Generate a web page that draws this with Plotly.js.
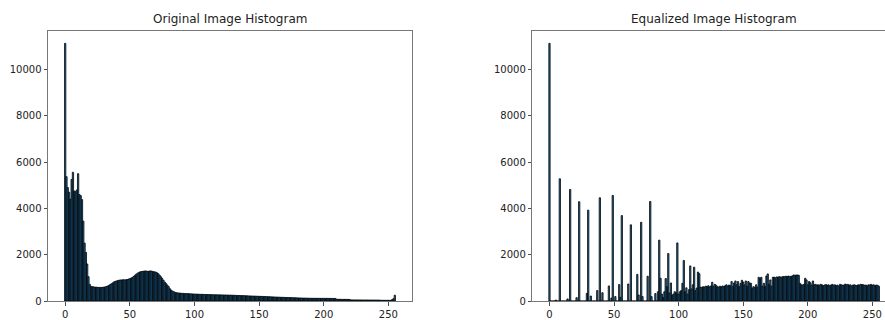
<!DOCTYPE html>
<html><head><meta charset="utf-8">
<script src="https://cdn.plot.ly/plotly-3.0.1.min.js"></script>
<style>html,body{margin:0;padding:0;overflow:hidden;background:#fff}#chart{width:900px;height:320px}</style>
</head><body><div id="chart"></div>
<script>
// Pixel intensity levels 0..255 (histogram categories)
const intensityLevels = Array.from({length: 256}, (_, i) => i);

// Original image histogram counts, bins 0..255
const originalCounts = [
  11130, 5370, 4900, 4700, 4400, 5250, 5560, 4750, 4720, 4800,
  5500, 4600, 4550, 4380, 3450, 2500, 2100, 1600, 1050, 720,
  630, 620, 610, 600, 600, 590, 580, 590, 580, 590,
  600, 610, 630, 650, 680, 720, 750, 790, 830, 850,
  870, 890, 900, 910, 910, 920, 910, 920, 930, 950,
  960, 990, 1020, 1060, 1110, 1160, 1200, 1230, 1260, 1270,
  1280, 1290, 1300, 1290, 1280, 1290, 1300, 1290, 1270, 1260,
  1250, 1220, 1180, 1120, 1050, 980, 900, 820, 760, 690,
  620, 530, 470, 430, 400, 375, 360, 350, 345, 340,
  330, 330, 325, 320, 315, 320, 315, 305, 310, 300,
  300, 295, 300, 290, 290, 285, 290, 280, 285, 280,
  280, 275, 278, 270, 272, 268, 270, 265, 268, 262,
  265, 260, 262, 258, 260, 255, 258, 250, 255, 248,
  250, 245, 242, 240, 238, 235, 236, 230, 232, 226,
  228, 222, 220, 218, 216, 214, 212, 210, 206, 205,
  202, 200, 196, 198, 192, 190, 188, 186, 183, 180,
  178, 176, 172, 170, 168, 165, 163, 160, 158, 156,
  155, 152, 150, 148, 146, 144, 142, 140, 138, 136,
  134, 132, 130, 128, 127, 125, 124, 122, 120, 119,
  118, 117, 116, 116, 115, 115, 114, 115, 114, 113,
  114, 113, 114, 112, 113, 112, 111, 112, 110, 111,
  75, 74, 72, 73, 71, 70, 70, 69, 70, 68,
  66, 48, 47, 46, 45, 46, 44, 45, 44, 45,
  43, 44, 42, 43, 44, 42, 41, 42, 40, 41,
  40, 39, 40, 38, 32, 31, 30, 30, 29, 30,
  29, 28, 30, 60, 100, 250
];

// Equalized image histogram counts, bins 0..255
const equalizedCounts = [
  11130, 0, 0, 0, 0, 40, 0, 0, 5280, 0,
  0, 0, 0, 0, 90, 0, 4820, 0, 0, 0,
  0, 145, 0, 4290, 0, 0, 0, 0, 0, 330,
  3925, 0, 215, 0, 0, 0, 0, 450, 0, 4460,
  0, 360, 0, 0, 0, 0, 650, 0, 130, 4560,
  0, 190, 0, 0, 710, 160, 3690, 0, 0, 0,
  0, 735, 0, 3290, 0, 0, 0, 0, 1150, 260,
  0, 3400, 190, 0, 0, 0, 1070, 0, 4300, 190,
  0, 0, 320, 0, 400, 2630, 980, 300, 150, 400,
  970, 620, 2050, 350, 780, 250, 300, 400, 350, 2510,
  300, 400, 450, 765, 1750, 400, 570, 300, 490, 1515,
  520, 700, 1460, 450, 560, 1250, 1180, 600, 580, 620,
  600, 640, 620, 660, 610, 650, 810, 640, 720, 680,
  620, 600, 640, 610, 650, 620, 660, 700, 640, 690,
  660, 840, 620, 780, 865, 700, 840, 620, 760, 895,
  820, 700, 865, 640, 840, 780, 765, 560, 620, 577,
  700, 600, 1025, 980, 1025, 640, 765, 620, 1080, 1170,
  720, 910, 640, 1025, 1030, 1000, 1040, 1030, 1050, 1030,
  1040, 1060, 1050, 1070, 1060, 1080, 1050, 1070, 1080, 1125,
  1110, 1120, 1125, 1110, 765, 700, 690, 720, 980, 910,
  700, 840, 790, 690, 865, 700, 720, 690, 700, 680,
  720, 700, 660, 690, 710, 680, 700, 660, 690, 720,
  680, 700, 660, 690, 640, 720, 700, 680, 690, 730,
  700, 720, 680, 700, 650, 690, 700, 680, 660, 700,
  690, 720, 710, 700, 680, 690, 650, 700, 690, 720,
  680, 700, 660, 690, 680, 640
];

const xTicks = [0, 50, 100, 150, 200, 250];
const yTicks = [0, 2000, 4000, 6000, 8000, 10000];
const yTickText = ['0', '2000', '4000', '6000', '8000', '10000'];
const titles = ['Original Image Histogram', 'Equalized Image Histogram'];

const W = 900, H = 320;
const barStyle = {color: '#1f77b4', line: {color: '#000000', width: 0.8}};

const traces = [
  {type: 'bar', x: intensityLevels, y: originalCounts, width: 1, marker: barStyle, xaxis: 'x', yaxis: 'y', hoverinfo: 'x+y'},
  {type: 'bar', x: intensityLevels, y: equalizedCounts, width: 1, marker: barStyle, xaxis: 'x2', yaxis: 'y2', hoverinfo: 'x+y'}
];

const tickFont = {family: 'DejaVu Sans, sans-serif', size: 10, color: '#222'};
function xAxis(d0, d1, anchor) {
  return {domain: [d0 / W, d1 / W], anchor: anchor, range: [-13.3, 268.3], tickmode: 'array', tickvals: xTicks,
    ticktext: xTicks.map(String),
    ticks: 'outside', ticklen: 3.5, tickwidth: 0.8, tickcolor: '#222', showline: true, mirror: true,
    linecolor: '#777', linewidth: 1, showgrid: false, zeroline: false, tickfont: tickFont, fixedrange: true};
}
function yAxis(anchor) {
  return {domain: [(H - 301) / H, (H - 30.5) / H], anchor: anchor, range: [0, 11685], tickmode: 'array', tickvals: yTicks,
    ticktext: yTickText,
    ticks: 'outside', ticklen: 3.5, tickwidth: 0.8, tickcolor: '#222', showline: true, mirror: true,
    linecolor: '#777', linewidth: 1, showgrid: false, zeroline: false, tickfont: tickFont, fixedrange: true};
}

const layout = {
  width: W, height: H, margin: {l: 0, r: 0, t: 0, b: 0},
  paper_bgcolor: '#fff', plot_bgcolor: '#fff', bargap: 0, showlegend: false,
  xaxis: xAxis(48, 412, 'y'), yaxis: yAxis('x'),
  xaxis2: xAxis(532.3, 896, 'y2'), yaxis2: yAxis('x2'),
  annotations: [
    {text: titles[0], xref: 'paper', yref: 'paper', x: 230 / W, y: (H - 19) / H, xanchor: 'center', yanchor: 'middle', showarrow: false,
      font: {family: 'DejaVu Sans, sans-serif', size: 12, color: '#222'}},
    {text: titles[1], xref: 'paper', yref: 'paper', x: 714 / W, y: (H - 19) / H, xanchor: 'center', yanchor: 'middle', showarrow: false,
      font: {family: 'DejaVu Sans, sans-serif', size: 12, color: '#222'}}
  ]
};

Plotly.newPlot('chart', traces, layout, {displayModeBar: false, staticPlot: true});
</script>
</body></html>
